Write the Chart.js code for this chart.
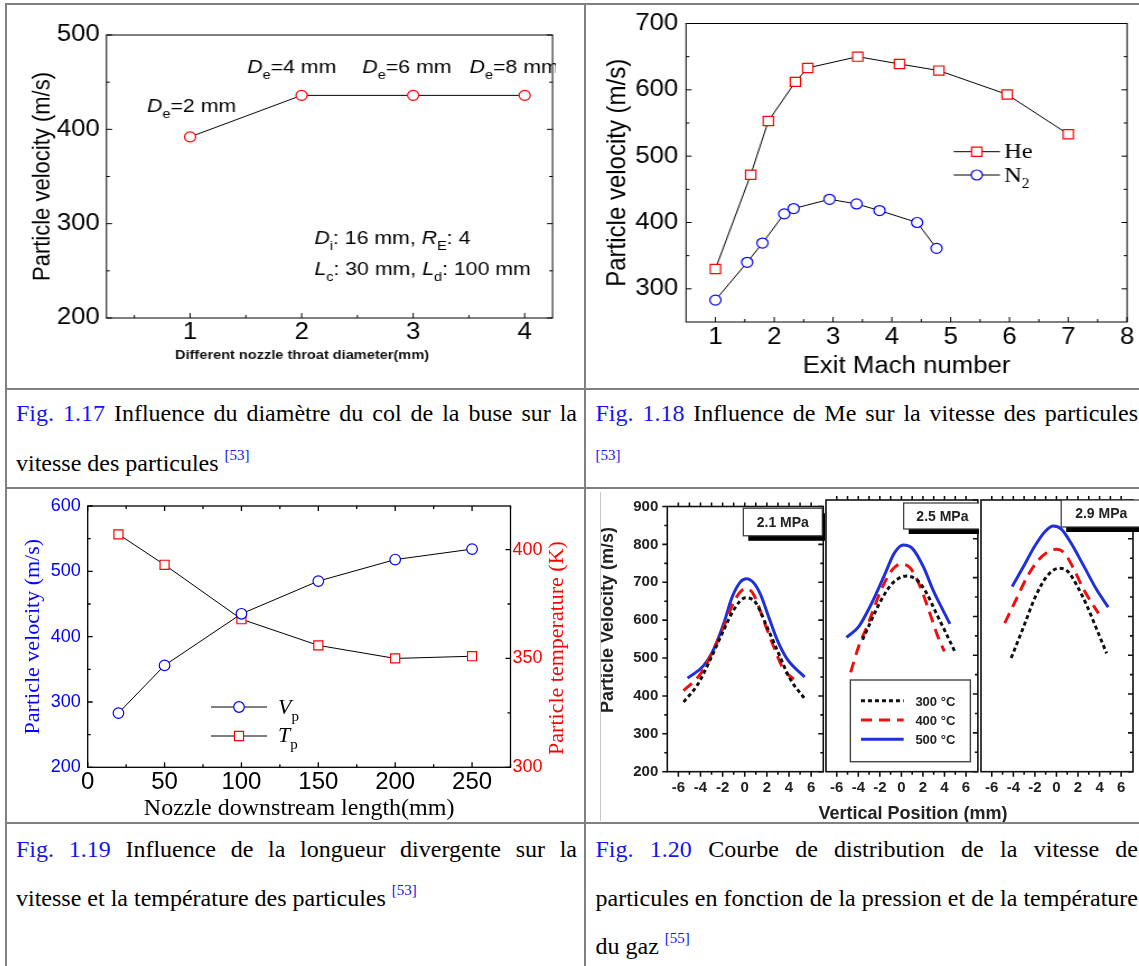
<!DOCTYPE html>
<html lang="fr">
<head>
<meta charset="UTF-8">
<title>Fig. 1.17 - 1.20 vitesse des particules</title>
<script src="https://cdn.jsdelivr.net/npm/chart.js"></script>
<style>
    body { margin: 0; background: #fff; width: 1139px; height: 966px; overflow: hidden; position: relative; }
    .rule { position: absolute; background: #808080; z-index: 5; }
    .box { position: absolute; }
    .stretch { transform: scaleX(1.12); transform-origin: 0 0; }
    .cap { position: absolute; font-family: "Liberation Serif", "Times New Roman", serif; font-size: 24px; line-height: 24px; white-space: nowrap; color: #000; }
    .cap .fig, .cap sup { color: #1414ee; }
    .cap sup { font-size: 15px; vertical-align: 0; position: relative; top: -11px; line-height: 0; }
    .axt { position: absolute; font-family: "Liberation Sans", Arial, sans-serif; font-weight: bold; font-size: 18px; line-height: 18px; color: #222; white-space: nowrap; transform: translateX(-50%); }
</style>
</head>
<body>

<!-- graphs -->
<div class="box stretch" style="left:7px;top:5px;width:515px;height:383px"><canvas id="c17"></canvas></div>
<div class="box stretch" style="left:586px;top:5px;width:494px;height:383px"><canvas id="c18"></canvas></div>
<div class="box" style="left:7px;top:490px;width:577px;height:332px"><canvas id="c19"></canvas></div>
<div class="box" style="left:588px;top:490px;width:237px;height:336px"><canvas id="c20a"></canvas></div>
<div class="box" style="left:821px;top:490px;width:158px;height:336px"><canvas id="c20b"></canvas></div>
<div class="box" style="left:976px;top:490px;width:163px;height:336px"><canvas id="c20c"></canvas></div>
<div class="axt" style="left:913px;top:804px">Vertical Position (mm)</div>

<!-- captions -->
<div class="cap just" data-w="561" style="left:16px;top:401px"><span class="fig">Fig. 1.17</span> Influence du diamètre du col de la buse sur la</div>
<div class="cap" style="left:16px;top:451px">vitesse des particules <sup>[53]</sup></div>
<div class="cap just" data-w="542.5" style="left:595.5px;top:401px"><span class="fig">Fig. 1.18</span> Influence de Me sur la vitesse des particules</div>
<div class="cap" style="left:595.5px;top:451px"><sup>[53]</sup></div>
<div class="cap just" data-w="561" style="left:16px;top:837px"><span class="fig">Fig. 1.19</span> Influence de la longueur divergente sur la</div>
<div class="cap" style="left:16px;top:886px">vitesse et la température des particules <sup>[53]</sup></div>
<div class="cap just" data-w="542.5" style="left:595.5px;top:837px"><span class="fig">Fig. 1.20</span> Courbe de distribution de la vitesse de</div>
<div class="cap just" data-w="542.5" style="left:595.5px;top:886px">particules en fonction de la pression et de la température</div>
<div class="cap" style="left:595.5px;top:934px">du gaz <sup>[55]</sup></div>

<!-- table rules -->
<div class="rule" style="left:5px;top:3px;width:1134px;height:2px"></div>
<div class="rule" style="left:5px;top:3px;width:2px;height:963px"></div>
<div class="rule" style="left:584px;top:3px;width:2px;height:963px"></div>
<div class="rule" style="left:5px;top:388px;width:1134px;height:2px"></div>
<div class="rule" style="left:5px;top:487px;width:1134px;height:2px"></div>
<div class="rule" style="left:5px;top:822px;width:1134px;height:2px"></div>
<div class="rule" style="left:600px;top:492px;width:1px;height:329px;background:#c8c8c8"></div>

<script>
    // ---------- Fig. 1.17 ----------
    const throatDia = [1, 2, 3, 4];
    const throatVel = [392, 436, 436, 436];
    const throatTicks = [1, 2, 3, 4];
    const throatMinor = [0.5, 1.5, 2.5, 3.5];
    const throatVelTicks = [200, 300, 400, 500];
    const throatVelMinor = [250, 350, 450];

    // ---------- Fig. 1.18 ----------
    const heMach = [1.0, 1.6, 1.9, 2.36, 2.57, 3.42, 4.13, 4.8, 5.96, 7.0];
    const heVel = [330, 472, 553, 612, 633, 650, 639, 629, 593, 533];
    const n2Mach = [1.0, 1.54, 1.8, 2.17, 2.33, 2.94, 3.4, 3.79, 4.43, 4.76];
    const n2Vel = [283, 340, 369, 413, 421, 435, 428, 418, 400, 361];
    const machTicks = [1, 2, 3, 4, 5, 6, 7, 8];
    const machMinor = [1.5, 2.5, 3.5, 4.5, 5.5, 6.5, 7.5];
    const machVelTicks = [300, 400, 500, 600, 700];
    const machVelMinor = [350, 450, 550, 650];

    // ---------- Fig. 1.19 ----------
    const nozzleLen = [20, 50, 100, 150, 200, 250];
    const vpVel = [283, 356, 435, 485, 518, 534];
    const tpTemp = [407, 393, 368, 356, 350, 351];
    const lenTicks = [0, 50, 100, 150, 200, 250];
    const lenMinor = [25, 75, 125, 175, 225, 275];
    const vpTicks = [200, 300, 400, 500, 600];
    const vpMinor = [250, 350, 450, 550];
    const tpTicks = [300, 350, 400];
    const tpMinor = [325, 375];

    // ---------- Fig. 1.20 ----------
    const posTicks = [-6, -4, -2, 0, 2, 4, 6];
    const posMinor = [-5, -3, -1, 1, 3, 5];
    const posAll = [-6, -5, -4, -3, -2, -1, 0, 1, 2, 3, 4, 5, 6];
    const vTicks = [200, 300, 400, 500, 600, 700, 800, 900];
    const vMinor = [250, 350, 450, 550, 650, 750, 850];

    // 2.1 MPa
    const pos21_300 = [-5.53, -4.3, -3.1, -1.9, -0.94, 0.06, 0.97, 2.0, 2.9, 4.1, 5.44];
    const vel21_300 = [384, 428, 497, 574, 630, 659, 647, 583, 523, 445, 392];
    const pos21_400 = [-5.53, -4.0, -2.8, -1.9, -0.94, -0.24, 0.15, 0.8, 1.7, 2.6, 3.5, 4.9];
    const vel21_400 = [414, 458, 523, 583, 651, 679, 683, 668, 600, 531, 471, 435];
    const pos21_500 = [-5.17, -3.72, -2.81, -1.9, -1.15, -0.39, 0.15, 0.82, 1.42, 2.17, 2.93, 3.84, 5.41];
    const vel21_500 = [447, 480, 523, 591, 660, 701, 709, 698, 668, 608, 548, 497, 450];
    // 2.5 MPa
    const pos25_300 = [-3.6, -3.2, -1.86, -0.81, 0.48, 1.44, 2.34, 3.24, 4.14, 5.04];
    const vel25_300 = [540, 565, 643, 686, 704, 694, 660, 608, 557, 505];
    const pos25_400 = [-4.71, -3.96, -3.06, -2.01, -0.96, 0, 0.84, 1.74, 2.64, 3.39, 3.99];
    const vel25_400 = [456, 523, 583, 660, 716, 735, 724, 677, 608, 548, 510];
    const pos25_500 = [-5.1, -3.96, -2.76, -1.56, -0.66, 0.18, 0.99, 2.04, 2.94, 3.84, 4.5];
    const vel25_500 = [546, 574, 634, 707, 763, 784, 776, 728, 668, 617, 581];
    // 2.9 MPa
    const pos29_300 = [-4.2, -3.15, -1.95, -0.9, 0.21, 1.05, 1.95, 2.85, 3.75, 4.65];
    const vel29_300 = [493, 566, 651, 703, 724, 716, 677, 626, 566, 505];
    const pos29_400 = [-4.8, -3.75, -2.7, -1.65, -0.75, 0, 0.75, 1.65, 2.55, 3.9];
    const vel29_400 = [583, 643, 703, 746, 767, 773, 763, 720, 668, 608];
    const pos29_500 = [-4.11, -3.15, -1.95, -1.05, -0.3, 0.45, 1.35, 2.55, 3.75, 4.8];
    const vel29_500 = [677, 724, 784, 819, 833, 825, 789, 729, 668, 624];

    const SANS = '"Liberation Sans", Arial, sans-serif';
    const SERIF = '"Liberation Serif", "Times New Roman", serif';
    Chart.defaults.font.family = SANS;
    Chart.defaults.color = '#000';
    Chart.defaults.animation = false;

    const pts = (xs, ys) => xs.map((x, i) => ({ x: x, y: ys[i] }));
    const fixTicks = vals => s => { s.ticks = vals.map(v => ({ value: v })); };
    const noGrid = { display: false, drawTicks: false };

    // box round the plot + small ticks (len > 0 inward, < 0 outward)
    const framePlugin = {
        id: 'frame',
        beforeDatasetsDraw(chart, args, o) {
            const { ctx, chartArea: a } = chart;
            ctx.save();
            ctx.strokeStyle = o.color || '#000';
            ctx.lineWidth = o.lineWidth || 1;
            ctx.strokeRect(a.left, a.top, a.right - a.left, a.bottom - a.top);
            ctx.beginPath();
            (o.marks || []).forEach(m => {
                const s = chart.scales[m.scale];
                m.values.forEach(v => {
                    const p = s.getPixelForValue(v);
                    if (m.side === 'bottom') { ctx.moveTo(p, a.bottom); ctx.lineTo(p, a.bottom - m.len); }
                    if (m.side === 'top') { ctx.moveTo(p, a.top); ctx.lineTo(p, a.top + m.len); }
                    if (m.side === 'left') { ctx.moveTo(a.left, p); ctx.lineTo(a.left + m.len, p); }
                    if (m.side === 'right') { ctx.moveTo(a.right, p); ctx.lineTo(a.right - m.len, p); }
                });
            });
            ctx.stroke();
            ctx.restore();
        }
    };

    function place(chart, it, x, y) {
        const a = chart.chartArea;
        if (it.ref === 'data') return [chart.scales[it.xs || 'x'].getPixelForValue(x), chart.scales[it.ys || 'y'].getPixelForValue(y)];
        if (it.ref === 'area') return [a.left + x, a.top + y];
        return [x, y];
    }

    function drawRich(ctx, x, y, it) {
        const parts = it.parts || [[it.text, '']];
        const segs = parts.map(([t, st]) => {
            const sub = st.includes('s');
            const font = (st.includes('i') ? 'italic ' : '') + (it.bold ? 'bold ' : '') + (sub ? it.sub : it.size) + 'px ' + (it.family || SANS);
            return { t: t, font: font, dy: sub ? it.drop : 0 };
        });
        let w = 0;
        segs.forEach(s => { ctx.font = s.font; s.w = ctx.measureText(s.t).width; w += s.w; });
        ctx.save();
        ctx.translate(x, y);
        if (it.rot) ctx.rotate(it.rot);
        let cx = it.align === 'center' ? -w / 2 : 0;
        ctx.fillStyle = it.color || '#000';
        ctx.textAlign = 'left';
        ctx.textBaseline = it.baseline || 'alphabetic';
        segs.forEach(s => { ctx.font = s.font; ctx.fillText(s.t, cx, s.dy); cx += s.w; });
        ctx.restore();
    }

    function drawMarker(ctx, x, y, m) {
        ctx.save();
        ctx.fillStyle = '#fff';
        ctx.strokeStyle = m.color;
        ctx.lineWidth = m.width || 1.2;
        ctx.beginPath();
        if (m.style === 'rect') {
            const h = m.r * Math.SQRT1_2;
            ctx.rect(x - h, y - h, 2 * h, 2 * h);
        } else {
            ctx.arc(x, y, m.r, 0, Math.PI * 2);
        }
        ctx.fill();
        ctx.stroke();
        ctx.restore();
    }

    // annotations, legends, label boxes
    const decorPlugin = {
        id: 'decor',
        afterDatasetsDraw(chart, args, o) {
            const { ctx, chartArea: a } = chart;
            ctx.save();
            if (o.clip !== undefined) {
                ctx.beginPath();
                ctx.rect(0, 0, a.right + o.clip, chart.height);
                ctx.clip();
            }
            (o.items || []).forEach(it => {
                if (it.type === 'text') {
                    const [x, y] = place(chart, it, it.x, it.y);
                    drawRich(ctx, x, y, it);
                } else if (it.type === 'sample') {
                    const [x0, y0] = place(chart, it, it.x0, it.y);
                    const [x1] = place(chart, it, it.x1, it.y);
                    ctx.save();
                    ctx.strokeStyle = it.color;
                    ctx.lineWidth = it.width;
                    ctx.setLineDash(it.dash || []);
                    ctx.beginPath();
                    ctx.moveTo(x0, y0);
                    ctx.lineTo(x1, y0);
                    ctx.stroke();
                    ctx.restore();
                    if (it.marker) drawMarker(ctx, (x0 + x1) / 2, y0, it.marker);
                } else if (it.type === 'rect') {
                    const [x, y] = place(chart, it, it.x, it.y);
                    ctx.strokeStyle = it.color;
                    ctx.lineWidth = it.width;
                    ctx.strokeRect(x, y, it.w, it.h);
                } else if (it.type === 'box') {
                    const [x, y] = place(chart, it, it.x, it.y);
                    ctx.fillStyle = '#000';
                    ctx.fillRect(x + 5, y + 5, it.w, it.h);
                    ctx.fillStyle = '#fff';
                    ctx.fillRect(x, y, it.w, it.h);
                    ctx.strokeStyle = '#333';
                    ctx.lineWidth = 1.2;
                    ctx.strokeRect(x, y, it.w, it.h);
                    drawRich(ctx, x + it.w / 2, y + it.h / 2 + 1, { text: it.text, size: 14, bold: true, align: 'center', baseline: 'middle', color: '#222' });
                }
            });
            ctx.restore();
        }
    };

    // ---------- Fig. 1.17 chart ----------
    const note = { type: 'text', ref: 'data', size: 19, sub: 13, drop: 6 };
    new Chart(document.getElementById('c17'), {
        type: 'line',
        data: {
            datasets: [{
                data: pts(throatDia, throatVel),
                borderColor: '#000', borderWidth: 1, tension: 0,
                pointStyle: 'circle', pointRadius: 5, pointBorderColor: '#f00', pointBackgroundColor: '#fff', pointBorderWidth: 1.2
            }]
        },
        options: {
            responsive: true, maintainAspectRatio: false,
            layout: { padding: { left: 20.7, right: 27.9, top: 30, bottom: 26.5 } },
            plugins: {
                legend: { display: false }, tooltip: { enabled: false },
                frame: {
                    marks: [
                        { scale: 'x', side: 'bottom', values: throatTicks, len: 5 },
                        { scale: 'x', side: 'bottom', values: throatMinor, len: 3 },
                        { scale: 'y', side: 'left', values: throatVelTicks, len: 5 },
                        { scale: 'y', side: 'left', values: throatVelMinor, len: 3 },
                        { scale: 'y', side: 'right', values: throatVelTicks, len: 5 },
                        { scale: 'y', side: 'right', values: throatVelMinor, len: 3 }
                    ]
                },
                decor: {
                    clip: 3,
                    items: [
                        { ...note, x: 0.614, y: 418.7, parts: [['D', 'i'], ['e', 's'], ['=2 mm', '']] },
                        { ...note, x: 1.512, y: 459.4, parts: [['D', 'i'], ['e', 's'], ['=4 mm', '']] },
                        { ...note, x: 2.545, y: 459.7, parts: [['D', 'i'], ['e', 's'], ['=6 mm', '']] },
                        { ...note, x: 3.506, y: 459.7, parts: [['D', 'i'], ['e', 's'], ['=8 mm', '']] },
                        { ...note, x: 2.114, y: 278.6, parts: [['D', 'i'], ['i', 's'], [': 16 mm, ', ''], ['R', 'i'], ['E', 's'], [': 4', '']] },
                        { ...note, x: 2.114, y: 245.8, parts: [['L', 'i'], ['c', 's'], [': 30 mm, ', ''], ['L', 'i'], ['d', 's'], [': 100 mm', '']] },
                        { type: 'text', ref: 'area', x: 174.6, y: 324, text: 'Different nozzle throat diameter(mm)', size: 13, bold: true, align: 'center', color: '#111' }
                    ]
                }
            },
            scales: {
                x: {
                    type: 'linear', min: 0.25, max: 4.25,
                    afterBuildTicks: fixTicks(throatTicks), afterFit: s => { s.height = 43.5; },
                    grid: noGrid, border: { display: false },
                    ticks: { font: { size: 23, lineHeight: 1 }, padding: 3.5, maxRotation: 0, autoSkip: false }
                },
                y: {
                    min: 200, max: 500,
                    afterBuildTicks: fixTicks(throatVelTicks), afterFit: s => { s.width = 68.1; },
                    grid: noGrid, border: { display: false },
                    ticks: { font: { size: 23, lineHeight: 1 }, padding: 6 },
                    title: { display: true, text: 'Particle velocity (m/s)', font: { size: 22, lineHeight: 1 }, padding: 0 }
                }
            }
        },
        plugins: [framePlugin, decorPlugin]
    });

    // ---------- Fig. 1.18 chart ----------
    new Chart(document.getElementById('c18'), {
        type: 'line',
        data: {
            datasets: [{
                label: 'He',
                data: pts(heMach, heVel),
                borderColor: '#000', borderWidth: 1, tension: 0,
                pointStyle: 'rect', pointRadius: 6.5, pointBorderColor: '#f00', pointBackgroundColor: '#fff', pointBorderWidth: 1.2
            }, {
                label: 'N2',
                data: pts(n2Mach, n2Vel),
                borderColor: '#000', borderWidth: 1, tension: 0,
                pointStyle: 'circle', pointRadius: 5, pointBorderColor: '#00f', pointBackgroundColor: '#fff', pointBorderWidth: 1.2
            }]
        },
        options: {
            responsive: true, maintainAspectRatio: false,
            layout: { padding: { left: 16, right: 10.1, top: 13, bottom: 9.5 } },
            plugins: {
                legend: { display: false }, tooltip: { enabled: false },
                frame: {
                    marks: [
                        { scale: 'x', side: 'bottom', values: machTicks, len: 5 },
                        { scale: 'x', side: 'bottom', values: machMinor, len: 3 },
                        { scale: 'y', side: 'left', values: machVelTicks, len: 5 },
                        { scale: 'y', side: 'left', values: machVelMinor, len: 3 },
                        { scale: 'y', side: 'right', values: machVelTicks, len: 5 },
                        { scale: 'y', side: 'right', values: machVelMinor, len: 3 }
                    ]
                },
                decor: {
                    items: [
                        { type: 'sample', ref: 'canvas', x0: 328.2, x1: 369.6, y: 146.7, color: '#000', width: 1, marker: { style: 'rect', r: 6.5, color: '#f00' } },
                        { type: 'sample', ref: 'canvas', x0: 328.2, x1: 369.6, y: 170, color: '#000', width: 1, marker: { style: 'circle', r: 5, color: '#00f' } },
                        { type: 'text', ref: 'canvas', x: 373.2, y: 153.3, text: 'He', size: 22, family: SERIF },
                        { type: 'text', ref: 'canvas', x: 373.2, y: 176.7, parts: [['N', ''], ['2', 's']], size: 22, sub: 14, drop: 6, family: SERIF }
                    ]
                }
            },
            scales: {
                x: {
                    type: 'linear', min: 0.5, max: 8,
                    afterBuildTicks: fixTicks(machTicks), afterFit: s => { s.height = 56.5; },
                    grid: noGrid, border: { display: false },
                    ticks: { font: { size: 23, lineHeight: 1 }, padding: 4.5, maxRotation: 0, autoSkip: false },
                    title: { display: true, text: 'Exit Mach number', font: { size: 23, lineHeight: 1 }, padding: 0 }
                },
                y: {
                    min: 250, max: 700,
                    afterBuildTicks: fixTicks(machVelTicks), afterFit: s => { s.width = 73.3; },
                    grid: noGrid, border: { display: false },
                    ticks: { font: { size: 23, lineHeight: 1 }, padding: 7 },
                    title: { display: true, text: 'Particle velocity (m/s)', font: { size: 24, lineHeight: 1 }, padding: 0 }
                }
            }
        },
        plugins: [framePlugin, decorPlugin]
    });

    // ---------- Fig. 1.19 chart ----------
    new Chart(document.getElementById('c19'), {
        type: 'line',
        data: {
            datasets: [{
                label: 'Vp',
                data: pts(nozzleLen, vpVel), yAxisID: 'y',
                borderColor: '#000', borderWidth: 1, tension: 0,
                pointStyle: 'circle', pointRadius: 5.3, pointBorderColor: '#00f', pointBackgroundColor: '#fff', pointBorderWidth: 1.2
            }, {
                label: 'Tp',
                data: pts(nozzleLen, tpTemp), yAxisID: 'y2',
                borderColor: '#000', borderWidth: 1, tension: 0,
                pointStyle: 'rect', pointRadius: 6.4, pointBorderColor: '#f00', pointBackgroundColor: '#fff', pointBorderWidth: 1.2
            }]
        },
        options: {
            responsive: true, maintainAspectRatio: false,
            layout: { padding: { left: 15.3, right: 0, top: 13.3, bottom: 1.7 } },
            plugins: {
                legend: { display: false }, tooltip: { enabled: false },
                frame: {
                    lineWidth: 1.3,
                    marks: [
                        { scale: 'x', side: 'bottom', values: lenTicks, len: 5 },
                        { scale: 'x', side: 'bottom', values: lenMinor, len: 3 },
                        { scale: 'x', side: 'top', values: lenTicks, len: 5 },
                        { scale: 'x', side: 'top', values: lenMinor, len: 3 },
                        { scale: 'y', side: 'left', values: vpTicks, len: 5 },
                        { scale: 'y', side: 'left', values: vpMinor, len: 3 },
                        { scale: 'y2', side: 'right', values: tpTicks, len: 5 },
                        { scale: 'y2', side: 'right', values: tpMinor, len: 3 }
                    ]
                },
                decor: {
                    items: [
                        { type: 'sample', ref: 'canvas', x0: 204, x1: 260, y: 217, color: '#000', width: 1, marker: { style: 'circle', r: 5.3, color: '#00f' } },
                        { type: 'sample', ref: 'canvas', x0: 204, x1: 260, y: 246, color: '#000', width: 1, marker: { style: 'rect', r: 6.4, color: '#f00' } },
                        { type: 'text', ref: 'canvas', x: 271, y: 224, parts: [['V', 'i'], ['p', 's']], size: 22, sub: 15, drop: 7, family: SERIF },
                        { type: 'text', ref: 'canvas', x: 271, y: 252.3, parts: [['T', 'i'], ['p', 's']], size: 22, sub: 15, drop: 7, family: SERIF },
                        { type: 'text', ref: 'canvas', x: 549.8, y: 158, text: 'Particle temperature (K)', size: 22, family: SERIF, color: '#f00', align: 'center', baseline: 'middle', rot: -Math.PI / 2 }
                    ]
                }
            },
            scales: {
                x: {
                    type: 'linear', min: 0, max: 275,
                    afterBuildTicks: fixTicks(lenTicks), afterFit: s => { s.height = 53; },
                    grid: noGrid, border: { display: false },
                    ticks: { font: { size: 24, lineHeight: 1 }, padding: 3, maxRotation: 0, autoSkip: false },
                    title: { display: true, text: 'Nozzle downstream length(mm)', font: { family: SERIF, size: 24, lineHeight: 1 }, padding: 0 }
                },
                y: {
                    position: 'left', min: 200, max: 600,
                    afterBuildTicks: fixTicks(vpTicks), afterFit: s => { s.width = 65.4; },
                    grid: noGrid, border: { display: false },
                    ticks: { font: { size: 18, lineHeight: 1 }, padding: 7, color: '#00f' },
                    title: { display: true, text: 'Particle velocity (m/s)', font: { family: SERIF, size: 22, lineHeight: 1 }, padding: 0, color: '#00f' }
                },
                y2: {
                    position: 'right', min: 300, max: 420,
                    afterBuildTicks: fixTicks(tpTicks), afterFit: s => { s.width = 73.5; },
                    grid: noGrid, border: { display: false },
                    ticks: { font: { size: 18, lineHeight: 1 }, padding: 2, color: '#f00' }
                }
            }
        },
        plugins: [framePlugin, decorPlugin]
    });

    // ---------- Fig. 1.20 charts (three pressures side by side) ----------
    const tempStyle = {
        300: { color: '#111', dash: [4, 3] },
        400: { color: '#f01010', dash: [11, 7] },
        500: { color: '#2030dd', dash: [] }
    };
    const legendItems = [
        { type: 'rect', ref: 'area', x: 24.4, y: 180, w: 120, h: 81.7, color: '#444', width: 1.4 },
        { type: 'sample', ref: 'area', x0: 35, x1: 77.7, y: 200.7, color: tempStyle[300].color, width: 3, dash: tempStyle[300].dash },
        { type: 'sample', ref: 'area', x0: 35, x1: 77.7, y: 220, color: tempStyle[400].color, width: 3, dash: tempStyle[400].dash },
        { type: 'sample', ref: 'area', x0: 35, x1: 77.7, y: 239.3, color: tempStyle[500].color, width: 3, dash: tempStyle[500].dash },
        { type: 'text', ref: 'area', x: 89.4, y: 205.5, text: '300 °C', size: 13, bold: true, color: '#222' },
        { type: 'text', ref: 'area', x: 89.4, y: 224.8, text: '400 °C', size: 13, bold: true, color: '#222' },
        { type: 'text', ref: 'area', x: 89.4, y: 244.1, text: '500 °C', size: 13, bold: true, color: '#222' }
    ];

    function panel(id, series, opt) {
        const marks = [
            { scale: 'x', side: 'bottom', values: posTicks, len: -5 },
            { scale: 'x', side: 'bottom', values: posMinor, len: -3 },
            { scale: 'x', side: 'top', values: posAll, len: -4 },
            { scale: 'y', side: 'right', values: vTicks, len: 5 },
            { scale: 'y', side: 'right', values: vMinor, len: 3 }
        ];
        if (opt.yAxis) {
            marks.push({ scale: 'y', side: 'left', values: vTicks, len: -5 });
            marks.push({ scale: 'y', side: 'left', values: vMinor, len: -3 });
        }
        return new Chart(document.getElementById(id), {
            type: 'line',
            data: {
                datasets: series.map(s => ({
                    label: s.t + ' °C',
                    data: pts(s.x, s.y),
                    borderColor: tempStyle[s.t].color, borderDash: tempStyle[s.t].dash, borderWidth: 3,
                    pointRadius: 0, cubicInterpolationMode: 'monotone', fill: false
                }))
            },
            options: {
                responsive: true, maintainAspectRatio: false,
                layout: { padding: opt.pad },
                plugins: {
                    legend: { display: false }, tooltip: { enabled: false },
                    frame: { lineWidth: 1.6, color: '#111', marks: marks },
                    decor: { items: opt.items }
                },
                scales: {
                    x: {
                        type: 'linear', min: -7, max: 7.1,
                        afterBuildTicks: fixTicks(posTicks), afterFit: s => { s.height = 30; },
                        grid: noGrid, border: { display: false },
                        ticks: { font: { size: 15, weight: 'bold', lineHeight: 1 }, padding: 9, color: '#222', maxRotation: 0, autoSkip: false }
                    },
                    y: {
                        min: 200, max: 900, display: opt.yAxis,
                        afterBuildTicks: fixTicks(vTicks),
                        afterFit: s => { s.width = opt.yAxis ? 79.3 : 0; },
                        grid: noGrid, border: { display: false },
                        ticks: { font: { size: 15, weight: 'bold', lineHeight: 1 }, padding: 9, color: '#222' }
                    }
                }
            },
            plugins: [framePlugin, decorPlugin]
        });
    }

    panel('c20a', [
        { t: 300, x: pos21_300, y: vel21_300 },
        { t: 400, x: pos21_400, y: vel21_400 },
        { t: 500, x: pos21_500, y: vel21_500 }
    ], {
        yAxis: true,
        pad: { left: 0, right: 1.7, top: 10, bottom: 24.3 },
        items: [
            { type: 'box', ref: 'area', x: 76, y: 1.7, w: 79, h: 27.6, text: '2.1 MPa' },
            { type: 'text', ref: 'canvas', x: 19.8, y: 130, text: 'Particle Velocity (m/s)', size: 18, bold: true, color: '#222', align: 'center', baseline: 'middle', rot: -Math.PI / 2 }
        ]
    });
    panel('c20b', [
        { t: 300, x: pos25_300, y: vel25_300 },
        { t: 400, x: pos25_400, y: vel25_400 },
        { t: 500, x: pos25_500, y: vel25_500 }
    ], {
        yAxis: false,
        pad: { left: 1.3, right: 1, top: 10, bottom: 24.3 },
        items: [
            { type: 'box', ref: 'area', x: 77.7, y: 3, w: 77.5, h: 26, text: '2.5 MPa' },
            ...legendItems
        ]
    });
    panel('c20c', [
        { t: 300, x: pos29_300, y: vel29_300 },
        { t: 400, x: pos29_400, y: vel29_400 },
        { t: 500, x: pos29_500, y: vel29_500 }
    ], {
        yAxis: false,
        pad: { left: 1.5, right: 6, top: 10, bottom: 24.3 },
        items: [
            { type: 'box', ref: 'area', x: 80.2, y: 0, w: 80, h: 27, text: '2.9 MPa' }
        ]
    });

    // justify caption lines to the cell width
    function justify() {
        document.querySelectorAll('.just').forEach(el => {
            el.style.wordSpacing = '0px';
            const natural = el.getBoundingClientRect().width;
            const gaps = el.textContent.trim().split(/\s+/).length - 1;
            el.style.wordSpacing = ((parseFloat(el.dataset.w) - natural) / gaps) + 'px';
        });
    }
    justify();
    if (document.fonts) document.fonts.ready.then(justify);
</script>
</body>
</html>
